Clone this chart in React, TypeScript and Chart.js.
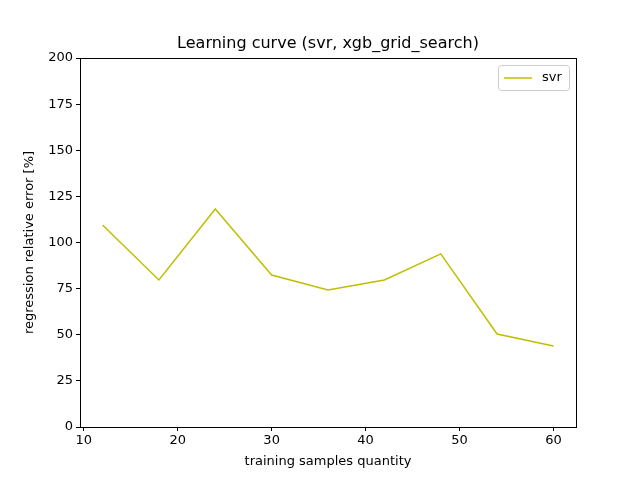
import React, { useEffect, useRef } from "react";
import { Chart, registerables } from "chart.js";
Chart.register(...registerables);

const samples = [12, 18, 24, 30, 36, 42, 48, 54, 60];
const svrError = [109.5, 79.7, 118.2, 82.4, 74.3, 79.7, 93.8, 50.4, 43.9];
const xTicks = [10, 20, 30, 40, 50, 60];
const yTicks = [0, 25, 50, 75, 100, 125, 150, 175, 200];
const FONT = "DejaVu Sans";

const deco = {
  id: "deco",
  afterDraw(c: any) {
    const ctx = c.ctx, a = c.chartArea;
    ctx.save();
    ctx.strokeStyle = "black";
    ctx.lineWidth = 1;
    ctx.strokeRect(Math.round(a.left) + 0.5, Math.round(a.top) + 0.5, Math.round(a.right - a.left), Math.round(a.bottom - a.top));
    ctx.fillStyle = "black";
    ctx.textAlign = "center";
    ctx.textBaseline = "middle";
    ctx.font = `16px ${FONT}`;
    ctx.fillText("Learning curve (svr, xgb_grid_search)", (a.left + a.right) / 2, 44);
    ctx.font = `13px ${FONT}`;
    ctx.fillText("training samples quantity", (a.left + a.right) / 2, 462);
    ctx.save();
    ctx.translate(30, (a.top + a.bottom) / 2);
    ctx.rotate(-Math.PI / 2);
    ctx.fillText("regression relative error [%]", 0, 0);
    ctx.restore();
    // legend
    ctx.strokeStyle = "#cccccc";
    ctx.fillStyle = "white";
    ctx.beginPath();
    (ctx as any).roundRect(498.5, 65.5, 71, 25, 3);
    ctx.fill();
    ctx.stroke();
    ctx.strokeStyle = "#bfbf00";
    ctx.lineWidth = 1.5;
    ctx.beginPath();
    ctx.moveTo(504, 78);
    ctx.lineTo(532, 78);
    ctx.stroke();
    ctx.fillStyle = "black";
    ctx.textAlign = "left";
    ctx.fillText("svr", 542, 78);
    ctx.restore();
  },
};

export default function App() {
  const ref = useRef<HTMLCanvasElement>(null);
  useEffect(() => {
    const chart = new Chart(ref.current!, {
      type: "line",
      data: {
        datasets: [{
          label: "svr",
          data: samples.map((x, i) => ({ x, y: svrError[i] })),
          borderColor: "#bfbf00",
          borderWidth: 1.5,
          pointRadius: 0,
          tension: 0,
        }],
      },
      options: {
        animation: false,
        responsive: false,
        layout: { padding: { top: 58, right: 64, left: 0, bottom: 0 } },
        plugins: { legend: { display: false }, title: { display: false }, tooltip: { enabled: false } },
        scales: {
          x: {
            type: "linear", min: 9.6, max: 62.4,
            afterBuildTicks: (s: any) => { s.ticks = xTicks.map((v) => ({ value: v })); },
            afterFit: (s: any) => { s.height = 53; },
            grid: { drawOnChartArea: false, drawTicks: true, tickLength: 4, color: "black" },
            border: { display: true, color: "black" },
            ticks: { color: "black", font: { family: FONT, size: 13 }, padding: 2, maxRotation: 0 },
          },
          y: {
            type: "linear", min: 0, max: 200,
            afterBuildTicks: (s: any) => { s.ticks = yTicks.map((v) => ({ value: v })); },
            afterFit: (s: any) => { s.width = 80; },
            grid: { drawOnChartArea: false, drawTicks: true, tickLength: 4, color: "black" },
            border: { display: true, color: "black" },
            ticks: { color: "black", font: { family: FONT, size: 13 }, padding: 3 },
          },
        },
      },
      plugins: [deco],
    });
    return () => chart.destroy();
  }, []);
  return (
    <div style={{ position: "fixed", left: 0, top: 0, background: "white" }}>
      <canvas ref={ref} width={640} height={480} style={{ width: 640, height: 480 }} />
    </div>
  );
}
